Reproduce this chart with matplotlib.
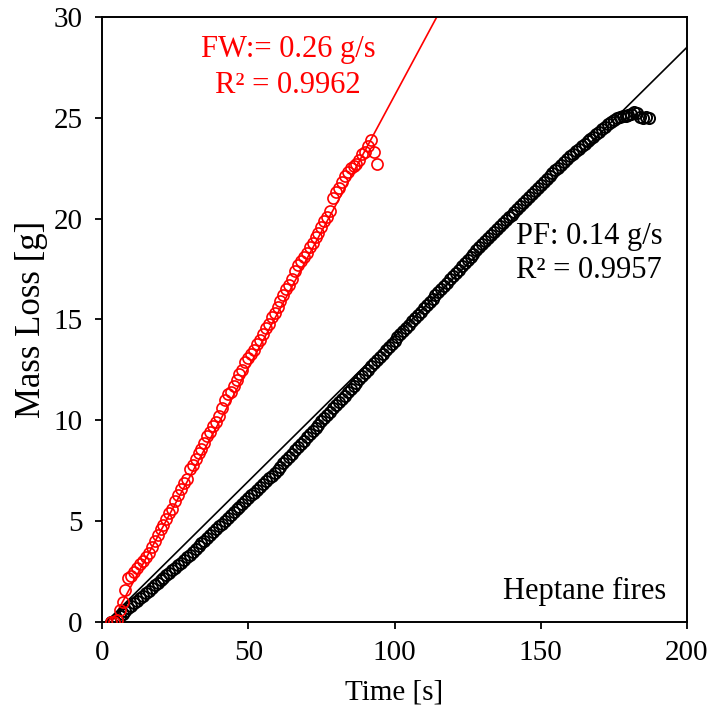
import matplotlib.pyplot as plt
import numpy as np

# tiempo de muestreo (1 s) y perdida de masa
t_fw = np.arange(3, 95)
m_fw = [0.0, 0.0, 0.1, 0.6, 1.0, 1.6, 2.2, 2.3, 2.5, 2.7,
        2.9, 3.0, 3.2, 3.4, 3.7, 4.0, 4.3, 4.6, 4.8, 5.1,
        5.4, 5.6, 6.0, 6.3, 6.6, 6.9, 7.1, 7.6, 7.8, 8.1,
        8.4, 8.6, 8.9, 9.2, 9.4, 9.7, 9.9, 10.2, 10.6, 11.0,
        11.3, 11.4, 11.7, 12.0, 12.3, 12.5, 12.9, 13.1, 13.3, 13.5,
        13.8, 14.0, 14.3, 14.6, 14.8, 15.1, 15.3, 15.6, 15.9, 16.2,
        16.5, 16.7, 17.0, 17.4, 17.7, 17.9, 18.1, 18.3, 18.6, 18.8,
        19.1, 19.3, 19.6, 19.9, 20.1, 20.4, 21.0, 21.3, 21.5, 21.8,
        22.1, 22.3, 22.5, 22.6, 22.7, 22.9, 23.2, 23.3, 23.6, 23.9,
        23.3, 22.7]

t_pf = np.arange(3, 188)
m_pf = [0.0, 0.05, 0.15, 0.3, 0.42, 0.55, 0.68, 0.8, 0.93, 1.05,
        1.18, 1.3, 1.43, 1.56, 1.68, 1.81, 1.93, 2.06, 2.18, 2.31,
        2.44, 2.56, 2.69, 2.82, 2.95, 3.08, 3.21, 3.34, 3.48, 3.62,
        3.76, 3.9, 4.04, 4.18, 4.32, 4.46, 4.6, 4.74, 4.88, 5.02,
        5.16, 5.3, 5.44, 5.58, 5.72, 5.86, 6.0, 6.14, 6.28, 6.42,
        6.56, 6.7, 6.84, 6.98, 7.12, 7.26, 7.4, 7.55, 7.71, 7.87,
        8.03, 8.19, 8.35, 8.51, 8.67, 8.83, 8.99, 9.15, 9.31, 9.47,
        9.63, 9.79, 9.95, 10.11, 10.27, 10.43, 10.59, 10.75, 10.91, 11.07,
        11.23, 11.39, 11.55, 11.71, 11.87, 12.03, 12.19, 12.35, 12.51, 12.67,
        12.83, 12.99, 13.15, 13.31, 13.47, 13.63, 13.79, 13.95, 14.11, 14.27,
        14.43, 14.59, 14.75, 14.91, 15.07, 15.23, 15.39, 15.55, 15.71, 15.87,
        16.03, 16.19, 16.35, 16.51, 16.67, 16.83, 16.99, 17.15, 17.31, 17.47,
        17.63, 17.79, 17.95, 18.11, 18.27, 18.43, 18.59, 18.75, 18.9, 19.04,
        19.19, 19.33, 19.48, 19.62, 19.77, 19.91, 20.06, 20.2, 20.35, 20.5,
        20.64, 20.79, 20.93, 21.08, 21.22, 21.37, 21.51, 21.66, 21.8, 21.95,
        22.1, 22.24, 22.39, 22.53, 22.68, 22.82, 22.97, 23.11, 23.23, 23.35,
        23.47, 23.59, 23.71, 23.83, 23.95, 24.07, 24.19, 24.31, 24.43, 24.55,
        24.67, 24.79, 24.9, 24.98, 25.05, 25.1, 25.08, 25.12, 25.2, 25.28,
        25.22, 25.05, 24.98, 25.02, 24.98]

# ajustes lineales (pendiente, ordenada)
fit_fw = (0.27, -0.9)
fit_pf = (0.1435, -0.2)

plt.rcParams['font.family'] = ['Liberation Serif', 'DejaVu Serif']

fig = plt.figure(figsize=(7.10, 7.17), dpi=100)
ax = fig.add_axes([0.1437, 0.1325, 0.8239, 0.8438])

xl = np.array([2., 200.])
ax.plot(xl, fit_fw[0]*xl + fit_fw[1], color='red', lw=1.2, zorder=1)
ax.plot(xl, fit_pf[0]*xl + fit_pf[1], color='black', lw=1.2, zorder=1)

ax.plot(t_pf, m_pf, 'o', mfc='none', mec='black', ms=8, mew=1.4, zorder=2)
ax.plot(t_fw, m_fw, 'o', mfc='none', mec='red', ms=8, mew=1.2, zorder=3)

ax.set_xlim(0, 200)
ax.set_ylim(0, 30)
ax.set_xticks([0, 50, 100, 150, 200])
ax.set_yticks([0, 5, 10, 15, 20, 25, 30])

ax.tick_params(axis='both', direction='out', length=5, width=1.3, labelsize=21)
ax.tick_params(axis='x', pad=8)
ax.tick_params(axis='y', pad=9)
for s in ax.spines.values():
    s.set_linewidth(1.4)

ax.set_xlabel('Time [s]', fontsize=21, labelpad=10)
ax.set_ylabel('Mass Loss [g]', fontsize=25, labelpad=4)

ax.text(63.6, 28.4, 'FW:= 0.26 g/s', color='red', fontsize=22, ha='center', va='center')
ax.text(63.6, 26.6, 'R² = 0.9962', color='red', fontsize=22, ha='center', va='center')
ax.text(191.5, 19.1, 'PF: 0.14 g/s', color='black', fontsize=22, ha='right', va='center')
ax.text(191.5, 17.45, 'R² = 0.9957', color='black', fontsize=22, ha='right', va='center')
ax.text(193, 1.5, 'Heptane fires', color='black', fontsize=22, ha='right', va='center')

fig.savefig('out.png', dpi=100)
